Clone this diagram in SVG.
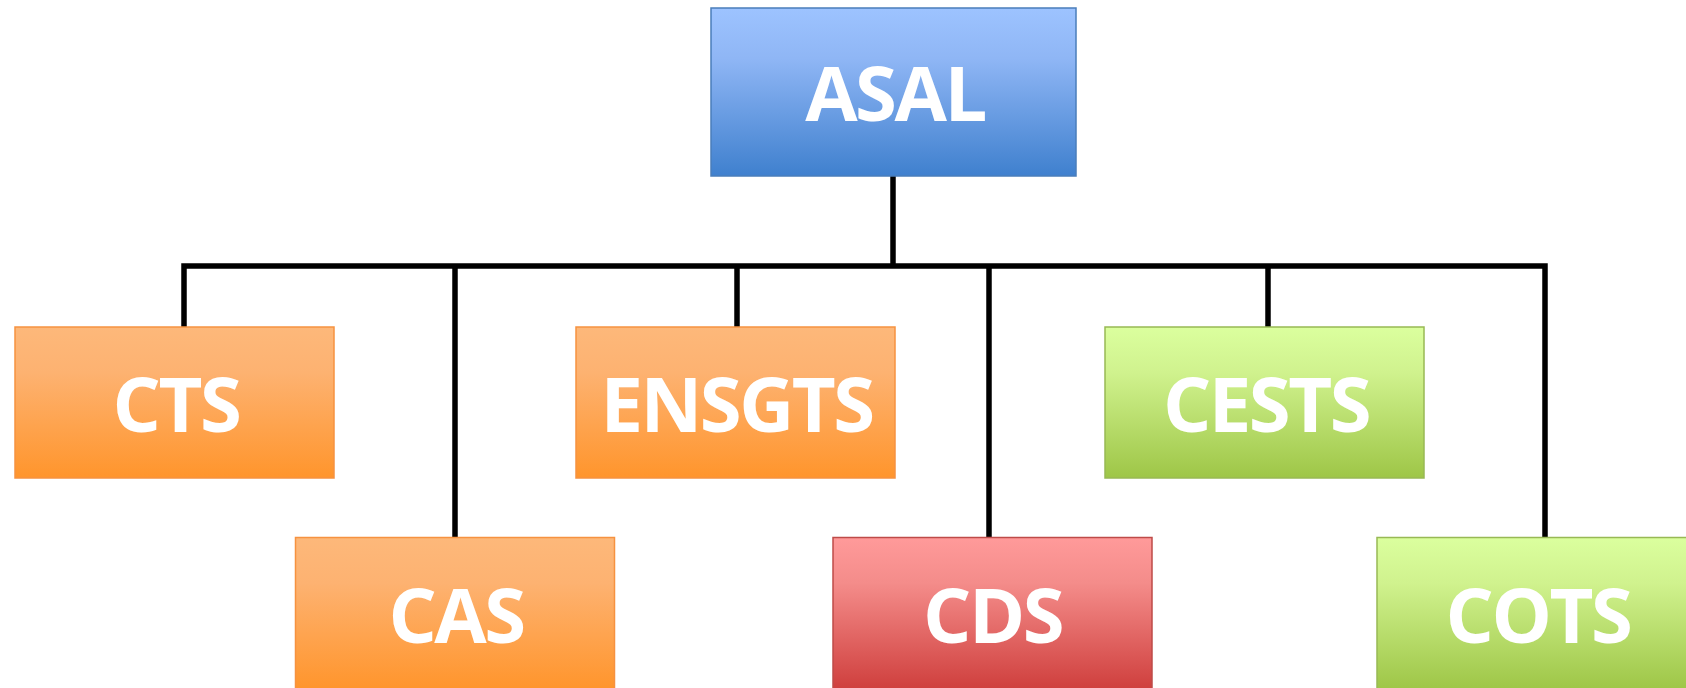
<svg xmlns="http://www.w3.org/2000/svg" width="1686" height="688" viewBox="0 0 1686 688">
<defs>
<linearGradient id="gBlue" x1="0" y1="0" x2="0" y2="1"><stop offset="0" stop-color="#9DC3FF"/><stop offset="0.3" stop-color="#8FB6F5"/><stop offset="1" stop-color="#3F80CE"/></linearGradient>
<linearGradient id="gOrange" x1="0" y1="0" x2="0" y2="1"><stop offset="0" stop-color="#FDB87A"/><stop offset="0.3" stop-color="#FDB271"/><stop offset="1" stop-color="#FF952C"/></linearGradient>
<linearGradient id="gRed" x1="0" y1="0" x2="0" y2="1"><stop offset="0" stop-color="#FF9A9A"/><stop offset="0.3" stop-color="#F48C8A"/><stop offset="1" stop-color="#CF3F3D"/></linearGradient>
<linearGradient id="gGreen" x1="0" y1="0" x2="0" y2="1"><stop offset="0" stop-color="#DBFF9E"/><stop offset="0.3" stop-color="#D0F28E"/><stop offset="1" stop-color="#9EC647"/></linearGradient>
</defs>
<style>
.lbl{font-family:"Open Sans",Lato,"Liberation Sans",sans-serif;font-weight:bold;font-size:76px;letter-spacing:-2.5px;fill:#FFFFFF;text-anchor:middle}
.conn{fill:none;stroke:#000000;stroke-width:5.5;stroke-linejoin:miter}
.blue{fill:url(#gBlue);stroke:#4A7EBB;stroke-width:1.5}
.orange{fill:url(#gOrange);stroke:#F69240;stroke-width:1.5}
.red{fill:url(#gRed);stroke:#BE4B48;stroke-width:1.5}
.green{fill:url(#gGreen);stroke:#98B954;stroke-width:1.5}
</style>
<rect width="1686" height="688" fill="#FFFFFF"/>
<g id="connectors">
<path class="conn" d="M893,176 V266"/>
<path class="conn" d="M184,327 V266 H1545 V537.5"/>
<path class="conn" d="M455,266 V537.5"/>
<path class="conn" d="M737,266 V327"/>
<path class="conn" d="M989,266 V537.5"/>
<path class="conn" d="M1268,266 V327"/>
</g>
<g id="asal"><rect class="blue" x="711" y="8" width="365" height="168"/><text class="lbl" x="895" y="121">ASAL</text></g>
<g id="cts"><rect class="orange" x="15" y="327" width="319" height="151"/><text class="lbl" x="176" y="432">CTS</text></g>
<g id="ensgts"><rect class="orange" x="576" y="327" width="319" height="151"/><text class="lbl" x="736.5" y="432">ENSGTS</text></g>
<g id="cests"><rect class="green" x="1105" y="327" width="319" height="151"/><text class="lbl" x="1266" y="432">CESTS</text></g>
<g id="cas"><rect class="orange" x="295.5" y="537.5" width="319" height="152"/><text class="lbl" x="456" y="643">CAS</text></g>
<g id="cds"><rect class="red" x="833" y="537.5" width="319" height="152"/><text class="lbl" x="992.5" y="643">CDS</text></g>
<g id="cots"><rect class="green" x="1377" y="537.5" width="319" height="152"/><text class="lbl" x="1538" y="643">COTS</text></g>
</svg>
